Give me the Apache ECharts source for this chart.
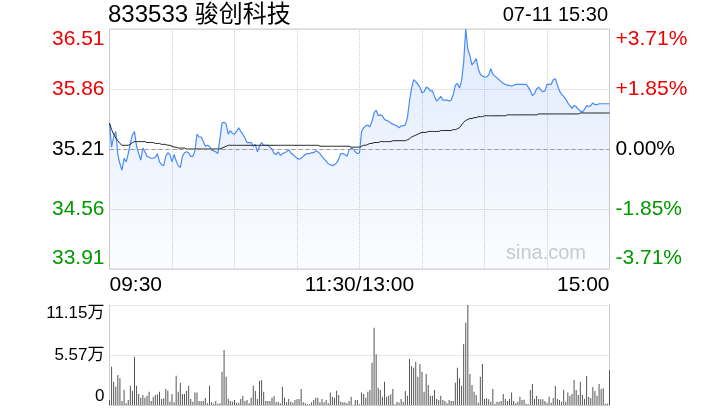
<!DOCTYPE html>
<html><head><meta charset="utf-8">
<script src="https://cdn.jsdelivr.net/npm/echarts@6/dist/echarts.min.js"></script>
<style>html,body{margin:0;padding:0;background:#fff}#c{width:720px;height:420px}</style>
</head><body><div id="c"></div>
<script>
const titleText = '833533 骏创科技';
const stampText = '07-11 15:30';
const prevClose = 35.21;

const price = [
35.49,35.23,35.34,35.40,35.15,35.05,34.98,35.11,35.07,35.16,
35.27,35.36,35.40,35.24,35.16,35.09,35.22,35.18,35.13,35.12,
35.11,35.11,35.12,35.16,35.07,35.04,35.03,35.13,35.17,35.15,
35.07,35.15,35.08,35.03,35.01,35.13,35.17,35.18,35.17,35.13,
35.13,35.19,35.37,35.34,35.34,35.29,35.24,35.25,35.24,35.20,
35.19,35.18,35.16,35.32,35.49,35.50,35.48,35.37,35.41,35.38,
35.37,35.40,35.44,35.40,35.37,35.33,35.28,35.28,35.28,35.24,
35.26,35.18,35.24,35.28,35.25,35.25,35.25,35.23,35.21,35.16,
35.15,35.18,35.14,35.16,35.17,35.18,35.20,35.17,35.15,35.13,
35.11,35.10,35.11,35.13,35.15,35.16,35.16,35.17,35.17,35.19,
35.18,35.16,35.13,35.10,35.08,35.05,35.04,35.03,35.04,35.06,
35.10,35.16,35.16,35.15,35.13,35.20,35.22,35.21,35.18,35.16,
35.17,35.40,35.44,35.46,35.47,35.45,35.51,35.60,35.63,35.57,
35.58,35.57,35.53,35.52,35.51,35.49,35.48,35.47,35.46,35.44,
35.46,35.46,35.47,35.55,35.73,35.87,35.96,35.94,35.91,35.88,
35.82,35.83,35.88,35.87,35.84,35.84,35.78,35.73,35.75,35.78,
35.74,35.74,35.74,35.73,35.74,35.80,35.90,35.92,35.87,35.95,
36.15,36.51,36.29,36.22,36.12,36.15,36.19,36.08,36.02,36.00,
35.99,35.99,36.01,36.08,36.02,36.00,35.98,35.96,35.94,35.92,
35.91,35.90,35.90,35.89,35.90,35.91,35.91,35.91,35.91,35.91,
35.91,35.88,35.84,35.79,35.81,35.86,35.88,35.85,35.83,35.84,
35.91,35.91,35.91,35.96,35.97,35.90,35.84,35.80,35.78,35.75,
35.71,35.68,35.65,35.68,35.67,35.64,35.62,35.61,35.64,35.68,
35.67,35.68,35.71,35.69,35.69,35.70,35.70,35.70,35.70,35.70,
35.70
];

const avgPrice = [
35.49,35.42,35.37,35.33,35.30,35.27,35.25,35.25,35.25,35.25,
35.26,35.28,35.29,35.29,35.29,35.29,35.29,35.29,35.28,35.28,
35.28,35.28,35.27,35.27,35.27,35.26,35.26,35.26,35.25,35.25,
35.24,35.23,35.23,35.22,35.22,35.22,35.22,35.21,35.21,35.21,
35.21,35.21,35.21,35.21,35.21,35.21,35.21,35.21,35.21,35.21,
35.21,35.21,35.21,35.21,35.22,35.23,35.24,35.25,35.25,35.25,
35.25,35.25,35.25,35.25,35.25,35.25,35.25,35.25,35.25,35.25,
35.25,35.25,35.25,35.25,35.25,35.25,35.25,35.25,35.25,35.25,
35.25,35.25,35.25,35.25,35.25,35.25,35.25,35.25,35.25,35.25,
35.25,35.25,35.25,35.25,35.25,35.25,35.25,35.25,35.25,35.25,
35.25,35.24,35.24,35.24,35.24,35.24,35.24,35.24,35.24,35.24,
35.24,35.24,35.24,35.24,35.24,35.24,35.23,35.23,35.23,35.23,
35.23,35.24,35.25,35.25,35.26,35.27,35.27,35.28,35.28,35.28,
35.29,35.29,35.29,35.29,35.29,35.29,35.30,35.30,35.30,35.30,
35.30,35.30,35.30,35.31,35.32,35.34,35.35,35.36,35.37,35.38,
35.39,35.39,35.39,35.40,35.40,35.40,35.40,35.40,35.40,35.41,
35.41,35.41,35.41,35.41,35.41,35.42,35.42,35.43,35.44,35.47,
35.50,35.52,35.53,35.54,35.54,35.55,35.55,35.56,35.56,35.56,
35.57,35.57,35.57,35.57,35.57,35.57,35.57,35.57,35.57,35.57,
35.57,35.58,35.58,35.58,35.58,35.58,35.58,35.58,35.58,35.58,
35.58,35.58,35.58,35.58,35.58,35.58,35.59,35.59,35.59,35.59,
35.59,35.59,35.59,35.59,35.59,35.59,35.59,35.59,35.59,35.59,
35.59,35.59,35.59,35.59,35.59,35.59,35.60,35.60,35.60,35.60,
35.60,35.60,35.60,35.60,35.60,35.60,35.60,35.60,35.60,35.60,
35.60
];

const volume = [
0.56,4.27,2.60,2.04,3.35,2.97,0.45,1.67,0.19,0.56,
2.16,1.56,5.39,2.16,1.23,0.82,1.12,0.82,1.04,1.49,
0.45,0.93,1.12,1.19,1.49,0.67,0.74,1.78,1.60,0.37,
1.23,0.30,3.27,1.49,2.49,1.23,1.23,1.56,2.16,0.67,
0.37,1.38,1.38,0.45,0.45,0.45,0.78,0.19,2.16,0.30,
0.15,0.45,0.15,0.19,3.72,6.13,3.16,0.71,0.45,0.37,
0.56,0.26,0.26,0.67,1.00,0.45,0.56,0.19,0.82,2.16,
1.56,0.67,2.68,2.79,1.49,0.45,0.45,0.45,0.82,1.00,
0.30,0.37,0.19,2.04,0.82,0.30,0.67,0.37,0.26,0.56,
0.63,0.67,1.78,0.30,0.19,0.07,0.07,0.30,0.56,0.82,
0.82,0.30,0.67,0.30,0.56,0.19,1.38,0.93,0.82,1.60,
1.12,0.37,0.30,0.30,0.19,0.45,0.93,0.02,0.56,0.56,
0.07,1.38,1.23,0.82,1.49,1.67,4.72,8.62,5.65,1.93,
1.67,0.93,2.60,0.93,1.04,1.19,1.78,0.07,0.37,0.26,
0.67,0.37,1.56,1.04,5.13,4.35,4.16,4.83,3.16,4.57,
3.72,1.49,3.46,2.23,1.04,1.04,1.67,0.67,0.56,1.04,
0.56,0.45,0.19,0.56,0.45,0.45,2.49,4.16,2.97,2.16,
6.80,9.18,11.15,3.46,2.23,1.49,1.12,0.26,3.16,4.57,
0.67,0.74,0.63,0.37,1.78,0.15,0.37,0.37,0.45,1.23,
0.67,0.45,0.67,1.38,0.45,0.19,0.37,0.93,0.56,0.59,
0.15,0.07,1.67,2.34,0.67,1.00,0.67,0.63,0.63,0.45,
0.26,0.93,0.26,0.78,2.12,0.67,0.56,0.37,1.67,0.37,
1.38,1.00,1.23,2.79,1.67,1.12,2.56,1.12,0.67,3.23,
0.93,0.78,2.01,1.56,1.04,2.34,1.78,1.86,0.15,0.15,
3.90
];

const priceTicks = ['33.91','34.56','35.21','35.86','36.51'];
const pctTicks = ['-3.71%','-1.85%','0.00%','+1.85%','+3.71%'];
const volTicks = ['0','5.57万','11.15万'];
const xTickIdx = [0,120,240];
const xTickText = ['09:30','11:30/13:00','15:00'];

// minute categories
const times = [];
for (let m = 0; m <= 120; m++) { const t = 9*60+30+m; times.push(String(Math.floor(t/60)).padStart(2,'0')+':'+String(t%60).padStart(2,'0')); }
for (let m = 1; m <= 120; m++) { const t = 13*60+m; times.push(String(Math.floor(t/60)).padStart(2,'0')+':'+String(t%60).padStart(2,'0')); }

const pMin = 33.91, pMax = 36.51, pStep = 0.65;
const RED = '#f00000', GREEN = '#009900', BLACK = '#000';
const FONT = 'Liberation Sans, Arial, Noto Sans CJK SC, sans-serif';
const lblColor = (v) => { const k = Math.round((v - pMin)/pStep); return k > 2 ? RED : (k < 2 ? GREEN : BLACK); };

const chart = echarts.init(document.getElementById('c'), null, {renderer:'canvas'});
chart.setOption({
  animation: false,
  backgroundColor: '#fff',
  textStyle: { fontFamily: FONT },
  graphic: [
    { type:'text', left: 108, top: 3, style:{ text: titleText, font: '24px ' + FONT, fill:'#000' } },
    { type:'text', right: 112, top: 5, style:{ text: stampText, font: '20px ' + FONT, fill:'#000' } },
    { type:'text', left: 506, top: 243, style:{ text: 'sina.com', font: '20px ' + FONT, fill:'#cccccc' } }
  ],
  grid: [
    { left: 109.5, right: 110.5, top: 29, height: 240, show: true, borderColor:'#cccccc', borderWidth:1, backgroundColor:'transparent' },
    { left: 109.5, right: 110.5, top: 305, height: 100, show: false }
  ],
  xAxis: [
    { type:'category', gridIndex:0, data: times, boundaryGap:false,
      axisLine:{show:false}, axisTick:{show:false},
      axisLabel:{ show:true, interval:(i)=> xTickIdx.indexOf(i) >= 0,
        formatter:(v, i)=> { const k = xTickIdx.indexOf(i); return k >= 0 ? xTickText[k] : ''; },
        color:'#000', fontSize:21, margin:6, alignMinLabel:'left', alignMaxLabel:'right', showMinLabel:true, showMaxLabel:true },
      splitLine:{ show:true, interval:(i)=> i % 30 === 0 && i !== 0 && i !== 240, lineStyle:{ color:'#d0d0d0', type:'dotted' } } },
    { type:'category', gridIndex:1, data: times, boundaryGap:false,
      axisLine:{show:true, lineStyle:{color:'#cccccc'}}, axisTick:{show:false}, axisLabel:{show:false}, splitLine:{show:false} }
  ],
  yAxis: [
    { type:'value', gridIndex:0, min:pMin, max:pMax, interval:pStep, position:'left',
      axisLine:{show:false}, axisTick:{show:false},
      axisLabel:{ fontSize:21, margin:5, color: lblColor,
        formatter:(v)=> priceTicks[Math.round((v-pMin)/pStep)],
        verticalAlignMaxLabel:'top', verticalAlignMinLabel:'bottom' },
      splitLine:{ show:true, lineStyle:{ color:'#d0d0d0', type:'dotted' } } },
    { type:'value', gridIndex:0, min:pMin, max:pMax, interval:pStep, position:'right',
      axisLine:{show:false}, axisTick:{show:false},
      axisLabel:{ fontSize:21, margin:6, color: lblColor,
        formatter:(v)=> pctTicks[Math.round((v-pMin)/pStep)],
        verticalAlignMaxLabel:'top', verticalAlignMinLabel:'bottom' },
      splitLine:{ show:false } },
    { type:'value', gridIndex:1, min:0, max:11.15, interval:5.575, position:'left',
      axisLine:{show:true, lineStyle:{color:'#cccccc'}}, axisTick:{show:false},
      axisLabel:{ fontSize:17, margin:5, color:'#000',
        formatter:(v)=> volTicks[Math.round(v/5.575)],
        verticalAlignMaxLabel:'top', verticalAlignMinLabel:'bottom' },
      splitLine:{ show:true, lineStyle:{ color:'#d0d0d0', type:'dotted' } } },
    { type:'value', gridIndex:1, min:0, max:11.15, interval:5.575, position:'right',
      axisLine:{show:true, lineStyle:{color:'#cccccc'}}, axisTick:{show:false}, axisLabel:{show:false}, splitLine:{show:false} }
  ],
  series: [
    { name:'price', type:'line', xAxisIndex:0, yAxisIndex:0, data: price, symbol:'none', smooth:false,
      lineStyle:{ color:'#4a8af4', width:1.2 },
      areaStyle:{ origin:'start', color: new echarts.graphic.LinearGradient(0,0,0,1,[
        {offset:0, color:'rgba(74,138,244,0.25)'}, {offset:1, color:'rgba(74,138,244,0.03)'}]) },
      markLine:{ silent:true, symbol:'none', label:{show:false},
        lineStyle:{ color:'#999', type:[4,3], width:1 }, data:[{ yAxis: prevClose }] } },
    { name:'avg', type:'line', xAxisIndex:0, yAxisIndex:0, data: avgPrice, symbol:'none',
      lineStyle:{ color:'#222', width:1 } },
    { name:'vol', type:'bar', xAxisIndex:1, yAxisIndex:2, data: volume, barWidth:1,
      itemStyle:{ color:'#555' } }
  ]
});
</script></body></html>
